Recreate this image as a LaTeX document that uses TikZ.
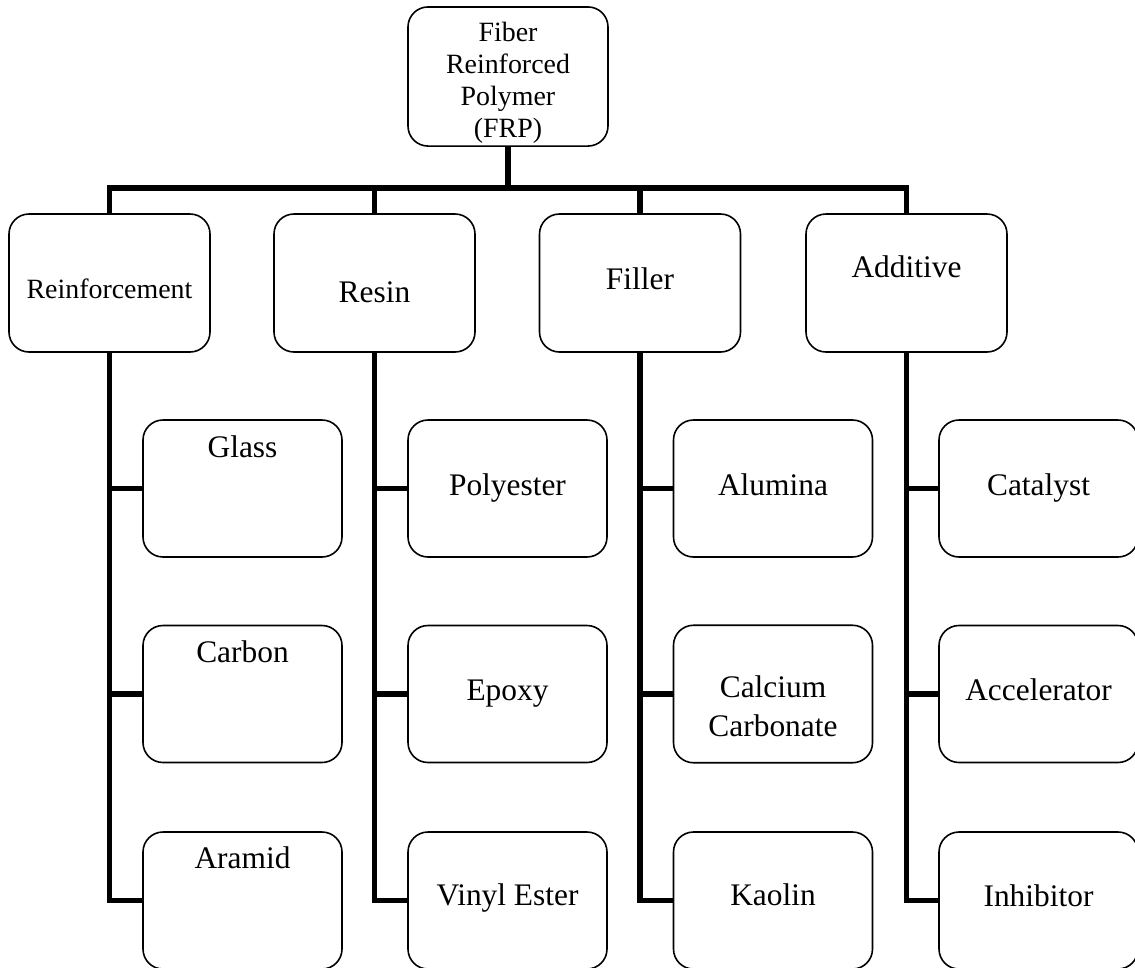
\documentclass[tikz,border=0pt]{standalone}
\usepackage{fontspec}
\setmainfont{Liberation Serif}
\newcommand\fsmall{\fontsize{27.9pt}{31.7pt}\selectfont}
\newcommand\fbig{\fontsize{31.4pt}{39pt}\selectfont}
\begin{document}
\begin{tikzpicture}[x=1pt,y=-1pt,
  box/.style={draw, line width=1.6pt, rounded corners=20pt, inner sep=0pt, align=center},
  topbox/.style={box, minimum width=200pt, minimum height=139pt, font=\fsmall},
  midbox/.style={box, minimum width=201pt, minimum height=138pt},
  leafbox/.style={box, minimum width=199pt, minimum height=137pt, font=\fbig},
  th/.style 2 args={text height=#1pt, text depth=#2pt},
  conn/.style={line width=5.5pt}]
\useasboundingbox (0,0) rectangle (1135,967);
\clip (0,0) rectangle (1135,967);
% top
\node[topbox] (top) at (508,76.5) {\rule{0pt}{35pt}Fiber\\Reinforced\\Polymer\\(FRP)\rule[-9pt]{0pt}{9pt}};
% level 2
\node[midbox, font=\fsmall, th={84}{54}] (L1) at (109.5,283) {Reinforcement};
\node[midbox, font=\fbig, th={88}{50}] (L2) at (374.5,283) {Resin};
\node[midbox, font=\fbig, th={75}{63}] (L3) at (640,283) {Filler};
\node[midbox, font=\fbig, th={63}{75}] (L4) at (906.5,283) {Additive};
% leaves column 1
\node[leafbox, th={37}{100}] (C11) at (242.5,488.5) {Glass};
\node[leafbox, th={37}{100}] (C12) at (242.5,694) {Carbon};
\node[leafbox, th={36}{101}] (C13) at (242.5,900.5) {Aramid};
% column 2
\node[leafbox, th={75}{62}] (C21) at (507.5,488.5) {Polyester};
\node[leafbox, th={75}{62}] (C22) at (507.5,694) {Epoxy};
\node[leafbox, th={73}{64}] (C23) at (507.5,900.5) {Vinyl Ester};
% column 3
\node[leafbox, th={75}{62}] (C31) at (773,488.5) {Alumina};
\node[leafbox] (C32) at (773,694) {\rule{0pt}{72.5pt}Calcium\\Carbonate\rule[-26pt]{0pt}{26pt}};
\node[leafbox, th={73}{64}] (C33) at (773,900.5) {Kaolin};
% column 4
\node[leafbox, th={75}{62}] (C41) at (1038.5,488.5) {Catalyst};
\node[leafbox, th={75}{62}] (C42) at (1038.5,694) {Accelerator};
\node[leafbox, th={74}{63}] (C43) at (1038.5,900.5) {Inhibitor};
% connectors
\coordinate (bar) at (508,188);
\draw[conn] (top.south) -- (bar);
\draw[conn] (L1.north) |- (bar) -| (L4.north);
\draw[conn] (L2.north) -- (L2.north |- bar);
\draw[conn] (L3.north) -- (L3.north |- bar);
\foreach \p/\c in {L1/C1, L2/C2, L3/C3, L4/C4}{
  \draw[conn] (\p.south) |- (\c3.west);
  \draw[conn] (\c1.west -| \p.south) -- (\c1.west);
  \draw[conn] (\c2.west -| \p.south) -- (\c2.west);
}
\end{tikzpicture}
\end{document}
